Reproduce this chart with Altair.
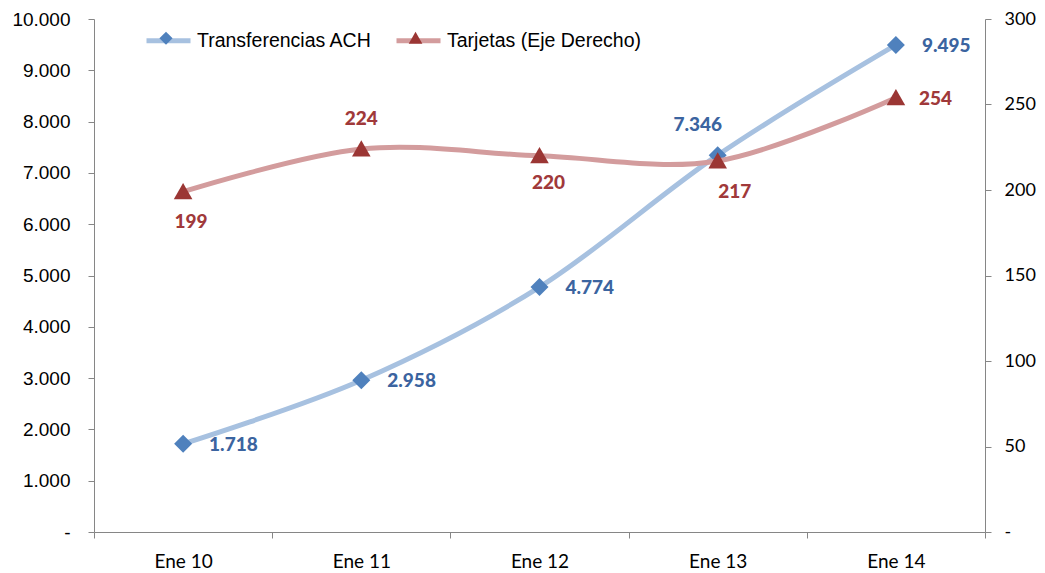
import altair as alt
import pandas as pd

categories = ["Ene 10", "Ene 11", "Ene 12", "Ene 13", "Ene 14"]
ach_values = [1718, 2958, 4774, 7346, 9495]
tarjetas_values = [199, 224, 220, 217, 254]
series_names = ["Transferencias ACH", "Tarjetas (Eje Derecho)"]
# marker legend keys (zero-width suffix keeps the two legends from merging)
marker_names = [s + "\u200b" for s in series_names]


def fmt(v):
    return f"{v:,}".replace(",", ".")


def make_df(values, i):
    return pd.DataFrame({"cat": categories, "value": values,
                         "label": [fmt(v) for v in values],
                         "series": series_names[i], "marker": marker_names[i]})


ach = make_df(ach_values, 0)
tar = make_df(tarjetas_values, 1)

LINE_COLORS = ["#A7C1E0", "#D39C9D"]
MARK_COLORS = ["#4F81BD", "#9B3634"]
LABEL_BLUE = "#3B64A0"
LABEL_RED = "#A0393A"
DIAMOND = "M0,-0.3L0.3,0L0,0.3L-0.3,0Z"
TRIANGLE = "M0,-0.29L0.31,0.25L-0.31,0.25Z"

W, H = 891, 513
GRAY = "#868686"
LEG_X, LEG_Y = 50, -3
LEG_FONT_SIZE = 19.5
COL_PAD = 14
FIRST_ENTRY_W = 9.002 * LEG_FONT_SIZE + 12  # label width of "Transferencias ACH" plus entry slack

x_enc = alt.X("cat:N", sort=categories, title=None,
              scale=alt.Scale(type="band", paddingInner=0, paddingOuter=0),
              axis=alt.Axis(labelAngle=0, tickBand="extent", domainColor=GRAY, tickColor=GRAY,
                            tickSize=6, labelPadding=14, labelFont="Lato", labelFontSize=19,
                            labelColor="#000000", grid=False))

legend_common = dict(title=None, orient="none", direction="horizontal",
                     legendX=LEG_X, legendY=LEG_Y, symbolSize=1936,
                     labelFont="Liberation Sans", labelFontSize=LEG_FONT_SIZE, labelLimit=0,
                     labelColor="#000000", labelOffset=4, padding=0)

stroke_enc = alt.Stroke("series:N", sort=series_names,
                        scale=alt.Scale(domain=series_names, range=LINE_COLORS),
                        legend=alt.Legend(symbolType="stroke", symbolStrokeWidth=5, zindex=1,
                                          columnPadding=COL_PAD, **legend_common))
marker_legend = alt.Legend(symbolStrokeWidth=0, symbolOpacity=1, labelExpr="''", zindex=2,
                           columnPadding=COL_PAD + FIRST_ENTRY_W, **legend_common)
fill_enc = alt.Fill("marker:N", sort=marker_names,
                    scale=alt.Scale(domain=marker_names, range=MARK_COLORS),
                    legend=marker_legend)
shape_enc = alt.Shape("marker:N", sort=marker_names,
                      scale=alt.Scale(domain=marker_names, range=[DIAMOND, TRIANGLE]),
                      legend=marker_legend)

y_left = alt.Y("value:Q", title=None,
               scale=alt.Scale(domain=[0, 10000], nice=False, zero=True),
               axis=alt.Axis(orient="left", values=list(range(0, 10001, 1000)), grid=False,
                             domainColor=GRAY, tickColor=GRAY, tickSize=6, labelPadding=18,
                             labelFont="Liberation Sans", labelFontSize=19, labelColor="#000000",
                             labelExpr="datum.value == 0 ? '-' : replace(format(datum.value, ','), ',', '.')"))
y_right = alt.Y("value:Q", title=None,
                scale=alt.Scale(domain=[0, 300], nice=False, zero=True),
                axis=alt.Axis(orient="right", values=list(range(0, 301, 50)), grid=False,
                              domainColor=GRAY, tickColor=GRAY, tickSize=6, labelPadding=13,
                              labelFont="Lato", labelFontSize=18, labelColor="#000000",
                              labelExpr="datum.value == 0 ? '-' : format(datum.value, 'd')"))

label_style = dict(font="Lato", fontSize=19, fontWeight=900)


def text_layer(df, y, color, cats, align, dx, dy):
    return alt.Chart(df).transform_filter(
        alt.FieldOneOfPredicate(field="cat", oneOf=cats)
    ).mark_text(align=align, baseline="middle", dx=dx, dy=dy, color=color, **label_style).encode(
        x=x_enc, y=y, text="label:N")


def series_layers(df, y):
    line = alt.Chart(df).mark_line(interpolate="cardinal", strokeWidth=5).encode(
        x=x_enc, y=y, stroke=stroke_enc)
    pts = alt.Chart(df).mark_point(filled=True, size=3600, opacity=1, strokeWidth=0).encode(
        x=x_enc, y=y, fill=fill_enc, shape=shape_enc)
    return line, pts


blue_line, blue_pts = series_layers(ach, y_left)
blue = alt.layer(
    blue_line, blue_pts,
    text_layer(ach, y_left, LABEL_BLUE, ["Ene 10", "Ene 11", "Ene 12", "Ene 14"], "left", 26, 1),
    text_layer(ach, y_left, LABEL_BLUE, ["Ene 13"], "center", -20, -30),
)

red_line, red_pts = series_layers(tar, y_right)
red = alt.layer(
    red_line, red_pts,
    text_layer(tar, y_right, LABEL_RED, ["Ene 10"], "center", 8, 30),
    text_layer(tar, y_right, LABEL_RED, ["Ene 11"], "center", 0, -30),
    text_layer(tar, y_right, LABEL_RED, ["Ene 12"], "center", 9, 27),
    text_layer(tar, y_right, LABEL_RED, ["Ene 13"], "center", 17, 31),
    text_layer(tar, y_right, LABEL_RED, ["Ene 14"], "left", 23, 1),
)

chart = alt.layer(blue, red).resolve_scale(y="independent").properties(
    width=W, height=H,
    autosize=alt.AutoSizeParams(type="none"),
    padding={"left": 86, "top": 11, "right": 52, "bottom": 45},
    background="#ffffff",
).configure_view(stroke=None)

chart.save("out.html", embed_options={"renderer": "svg", "actions": False})
